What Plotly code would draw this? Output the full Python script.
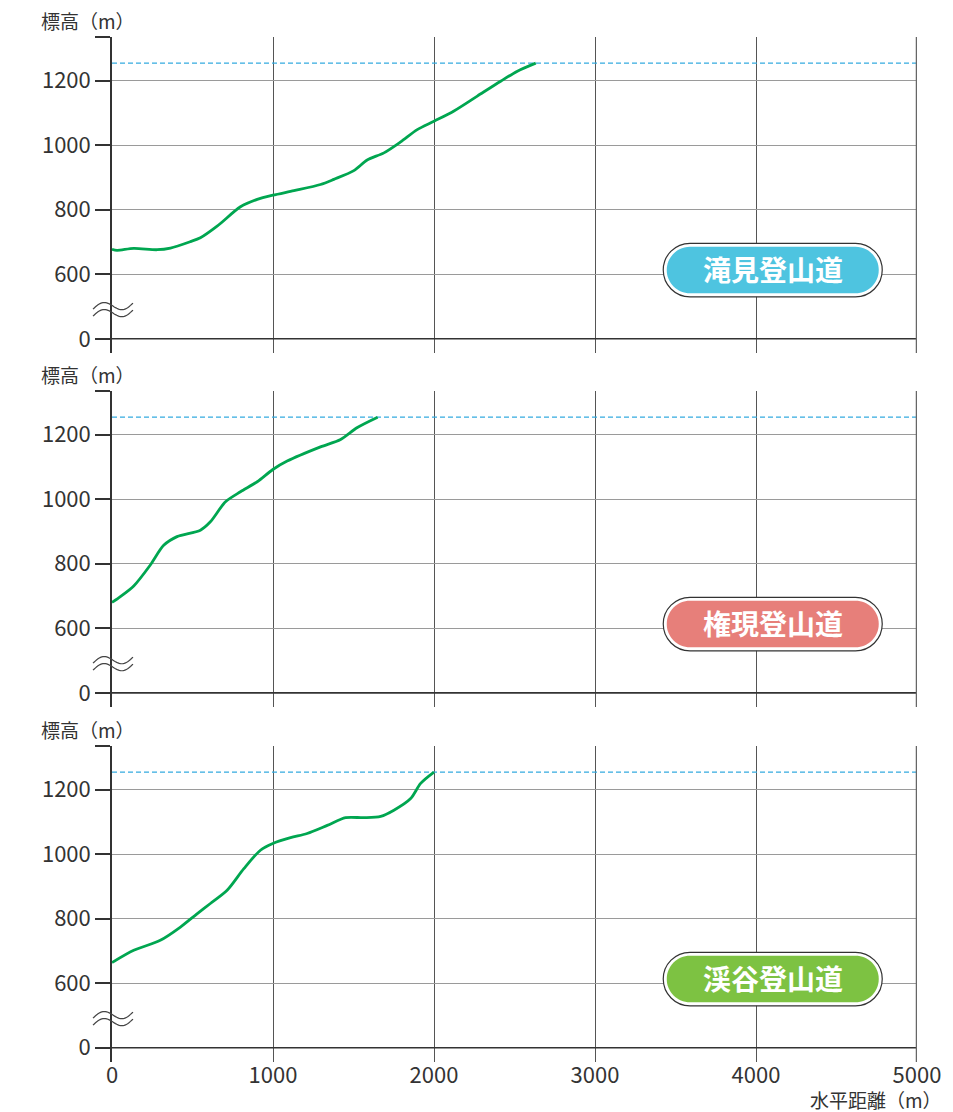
import numpy as np
import plotly.graph_objects as go

# ---------------- data ----------------
X_TICKS = [0, 1000, 2000, 3000, 4000, 5000]
Y_TICKS = [400, 600, 800, 1000, 1200, 1335]          # 400 position shows the broken-axis "0"
Y_TICK_TEXT = ["0", "600", "800", "1000", "1200", ""]
SUMMIT = 1254

ROUTES = ["滝見登山道", "権現登山道", "渓谷登山道"]
ROUTE_COLORS = ["#4EC4E0", "#E77F7A", "#7DC242"]

taki_x = [0, 31, 135, 280, 363, 487, 549, 653, 798, 902, 999, 1130, 1295, 1378, 1502,
          1585, 1689, 1793, 1896, 2000, 2124, 2269, 2414, 2518, 2632]
taki_y = [677, 674, 680, 676, 681, 701, 713, 749, 809, 832, 845, 859, 878, 894, 921,
          954, 976, 1010, 1048, 1074, 1106, 1152, 1198, 1229, 1254]

gongen_x = [0, 52, 135, 238, 321, 404, 549, 611, 705, 798, 902, 999, 1088, 1295, 1420,
            1524, 1650]
gongen_y = [680, 698, 731, 796, 857, 884, 904, 930, 992, 1023, 1054, 1092, 1118, 1162,
            1185, 1222, 1254]

keikoku_x = [0, 135, 300, 425, 528, 611, 715, 819, 922, 999, 1109, 1212, 1337, 1451,
             1565, 1669, 1751, 1855, 1917, 2000]
keikoku_y = [664, 702, 733, 774, 815, 847, 888, 955, 1012, 1033, 1051, 1064, 1089, 1113,
             1113, 1117, 1136, 1172, 1219, 1254]

SERIES = [(taki_x, taki_y), (gongen_x, gongen_y), (keikoku_x, keikoku_y)]

# ---------------- styling ----------------
FONT = "Noto Sans CJK JP"
TXT = "#333333"
LINE_GREEN = "#00A650"
Y_RANGE = [356, 1335]
DOMAINS = [[0.6917, 1.0], [0.3463, 0.6546], [0.0, 0.3083]]
BREAK_AT = 490

fig = go.Figure()
shapes = []
annotations = []


def pill_path(w, h):
    r = h / 2.0
    a = w / 2.0 - r
    k = 0.5523 * r
    return (f"M {-a},{-r} L {a},{-r} "
            f"C {a + k},{-r} {a + r},{-k} {a + r},0 "
            f"C {a + r},{k} {a + k},{r} {a},{r} "
            f"L {-a},{r} "
            f"C {-a - k},{r} {-a - r},{k} {-a - r},0 "
            f"C {-a - r},{-k} {-a - k},{-r} {-a},{-r} Z")


def wave_path(offset):
    xs = np.linspace(-19, 21, 33)
    ys = 5.0 * np.sin(2 * np.pi * (xs + 19) / 40.0) + 0.15 * xs + offset
    pts = [f"{x:.2f},{y:.2f}" for x, y in zip(xs, ys)]
    return "M " + " L ".join(pts)


for i, ((xs, ys), name, col) in enumerate(zip(SERIES, ROUTES, ROUTE_COLORS)):
    n = "" if i == 0 else str(i + 1)
    xa, ya = "x" + n, "y" + n

    # summit dashed line
    fig.add_trace(go.Scatter(x=[X_TICKS[0], X_TICKS[-1]], y=[SUMMIT, SUMMIT], mode="lines",
                             line=dict(color="#35ABE0", width=1.3, dash="5px,3px"),
                             xaxis=xa, yaxis=ya, showlegend=False, hoverinfo="skip"))
    # profile
    fig.add_trace(go.Scatter(x=xs, y=ys, mode="lines",
                             line=dict(color=LINE_GREEN, width=2.8, shape="spline", smoothing=0.8),
                             xaxis=xa, yaxis=ya, showlegend=False, name=name))

    fig.update_layout({
        "xaxis" + n: dict(domain=[0, 1], anchor=ya, range=[0, 5000], tickvals=X_TICKS,
                          ticktext=[str(v) for v in X_TICKS], showticklabels=(i == 2),
                          ticks="", showgrid=True, gridcolor="#555555", gridwidth=1.2,
                          zeroline=False, showline=False, ticklabelstandoff=-2,
                          tickfont=dict(family=FONT, size=22, color=TXT)),
        "yaxis" + n: dict(domain=DOMAINS[i], anchor=xa, range=Y_RANGE, tickvals=Y_TICKS,
                          ticktext=Y_TICK_TEXT, ticks="outside", ticklen=15, tickwidth=1.5,
                          tickcolor="#333333", showline=True, linecolor="#333333", linewidth=1.6,
                          showgrid=True, gridcolor="#9A9A9A", gridwidth=1, zeroline=False,
                          tickfont=dict(family=FONT, size=22, color=TXT)),
    })

    # zero (base) line and right frame
    shapes.append(dict(type="line", xref=xa, yref=ya, x0=0, x1=5000, y0=400, y1=400,
                       line=dict(color="#333333", width=1.6), layer="above"))
    shapes.append(dict(type="line", xref=xa, yref=ya, x0=5000, x1=5000, y0=Y_RANGE[0], y1=Y_RANGE[1],
                       line=dict(color="#666666", width=2.5), layer="above"))
    # axis break wiggle (paper refs so it is not clipped at the plot edge)
    d0, d1 = DOMAINS[i]
    yb = d0 + (BREAK_AT - Y_RANGE[0]) / (Y_RANGE[1] - Y_RANGE[0]) * (d1 - d0)
    for off in (3.5, -3.5):
        shapes.append(dict(type="path", xref="paper", yref="paper", xsizemode="pixel",
                           ysizemode="pixel", xanchor=0, yanchor=yb, path=wave_path(off),
                           line=dict(color="#444444", width=1.2), layer="above"))
    # route label pill
    shapes.append(dict(type="path", xref=xa, yref=ya, xsizemode="pixel", ysizemode="pixel",
                       xanchor=4104, yanchor=613, path=pill_path(219, 53.5),
                       fillcolor="white", line=dict(color="#333333", width=1.2), layer="above"))
    shapes.append(dict(type="path", xref=xa, yref=ya, xsizemode="pixel", ysizemode="pixel",
                       xanchor=4104, yanchor=613, path=pill_path(212, 46.5),
                       fillcolor=col, line=dict(width=0), layer="above"))
    annotations.append(dict(x=4104, y=613, xref=xa, yref=ya, text=name, showarrow=False,
                            font=dict(family=FONT, size=28, color="white", weight="bold"),
                            xanchor="center", yanchor="middle", yshift=1))
    # y-axis title
    annotations.append(dict(x=(39 - 112) / 805.0, y=DOMAINS[i][1], xref="paper", yref="paper",
                            text="標高（m）", showarrow=False, xanchor="left", yanchor="bottom",
                            yshift=1, font=dict(family=FONT, size=19, color=TXT)))

annotations.append(dict(x=(808 - 112) / 805.0, y=-37 / 1025.0, xref="paper", yref="paper",
                        text="水平距離（m）", showarrow=False, xanchor="left", yanchor="middle",
                        font=dict(family=FONT, size=19, color=TXT)))

fig.update_layout(width=953, height=1112, margin=dict(l=112, r=36, t=37, b=50),
                  paper_bgcolor="white", plot_bgcolor="white", showlegend=False,
                  shapes=shapes, annotations=annotations,
                  font=dict(family=FONT, color=TXT))

fig.write_html("out.html", config={"displayModeBar": False},
               post_script="document.body.style.margin='0';document.body.style.overflow='hidden';")
